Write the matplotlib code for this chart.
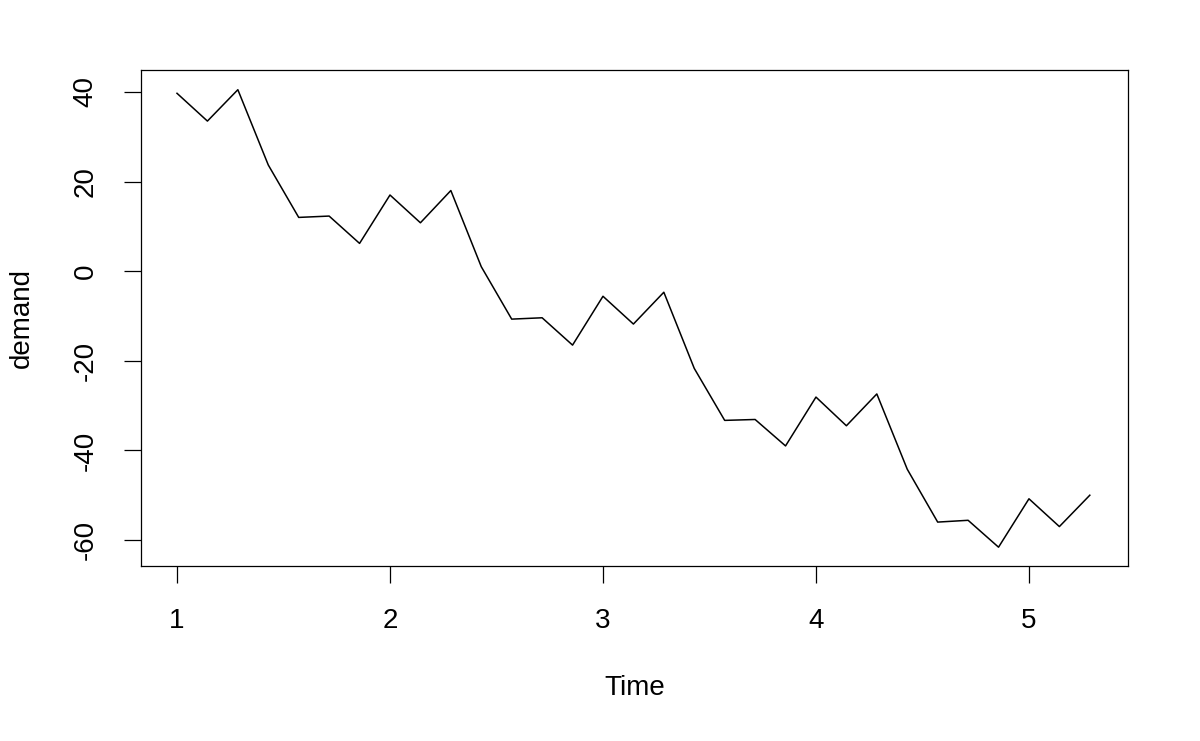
import numpy as np
import matplotlib
matplotlib.use('Agg')
import matplotlib.pyplot as plt

plt.rcParams['font.family'] = ['Liberation Sans', 'DejaVu Sans']

# ts with frequency 7, starting at 1
start = 1
freq = 7
demand = [39.7, 33.5, 40.5, 23.7, 12.0, 12.3, 6.2,
          17.0, 10.8, 18.0, 1.0, -10.7, -10.4, -16.5,
          -5.6, -11.8, -4.7, -21.7, -33.3, -33.1, -39.0,
          -28.1, -34.5, -27.4, -44.2, -56.0, -55.6, -61.6,
          -50.8, -57.0, -50.0]
xticks = [1, 2, 3, 4, 5]
yticks = [-60, -40, -20, 0, 20, 40]

time = start + np.arange(len(demand)) / freq

fig = plt.figure(figsize=(12, 7.41), dpi=100)
ax = fig.add_axes([141 / 1200, 1 - 566 / 741, 987 / 1200, 496 / 741])
ax.plot(time, demand, color='black', linewidth=1.1)

ax.set_xlim(0.831, 5.465)
ax.set_ylim(-65.8, 44.9)
ax.set_xticks(xticks)
ax.set_yticks(yticks)
ax.set_xticklabels([str(t) for t in xticks])
ax.set_yticklabels([str(t) for t in yticks], rotation=90, va='center')
ax.tick_params(direction='out', length=12.5, width=0.9, pad=18,
               labelsize=20, color='black')
for s in ax.spines.values():
    s.set_linewidth(0.9)

ax.set_xlabel('Time', fontsize=20, va='center')
ax.set_ylabel('demand', fontsize=20, va='center')
ax.xaxis.set_label_coords(0.5, -0.246)
ax.yaxis.set_label_coords(-0.1206, 0.5)

fig.savefig('out.png', dpi=100)
